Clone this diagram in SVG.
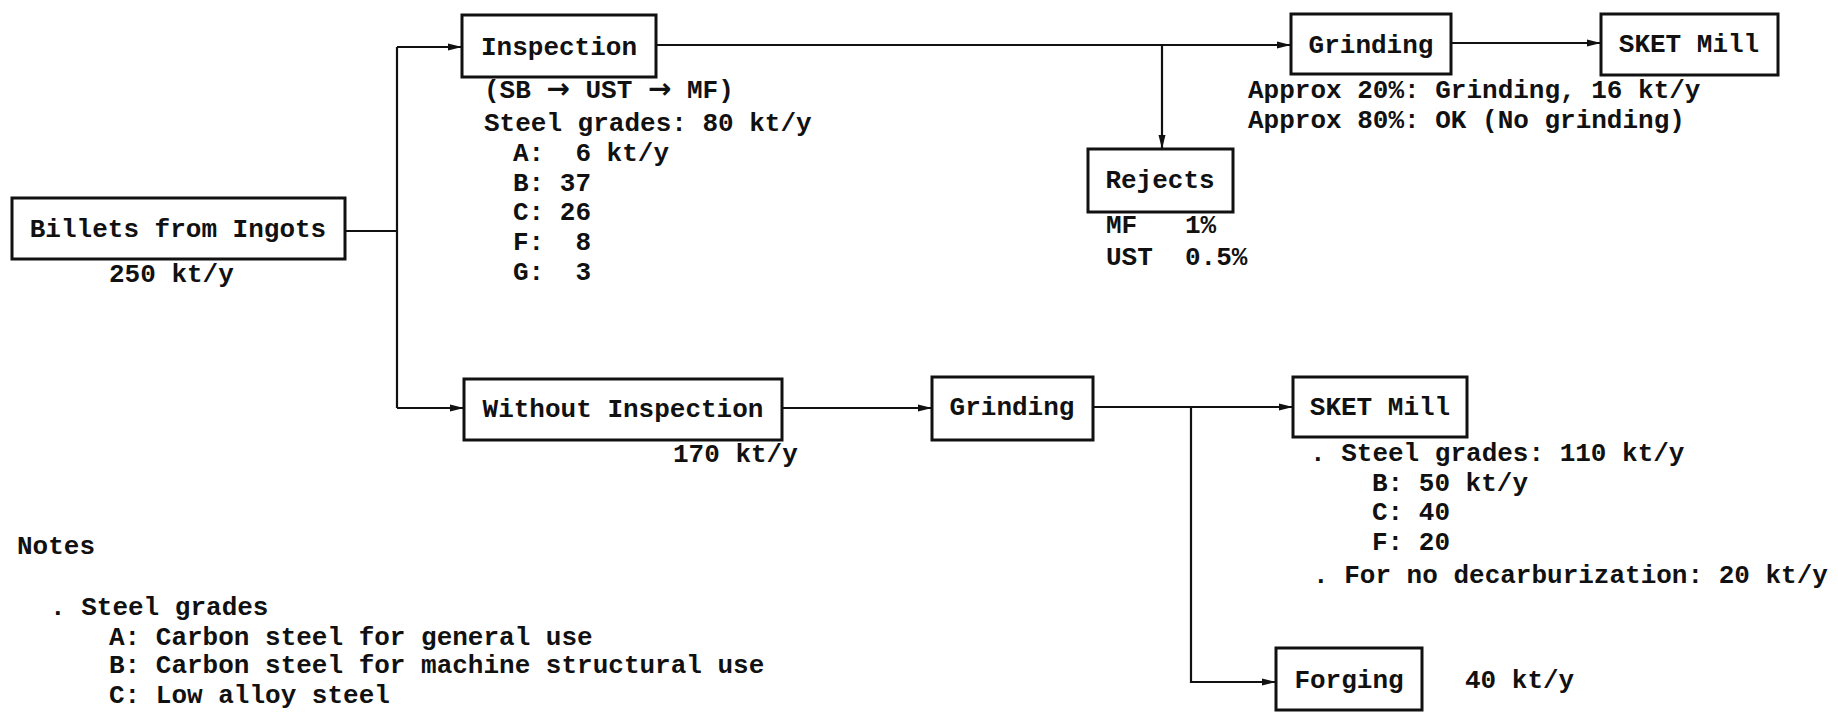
<svg xmlns="http://www.w3.org/2000/svg" width="1838" height="715" viewBox="0 0 1838 715" xml:space="preserve">
<style>
text{font-family:"Liberation Mono","Courier New",monospace;font-weight:bold;font-size:26px;fill:#111;white-space:pre}
.c{text-anchor:middle}
.ar{font-family:"DejaVu Sans",sans-serif;font-size:28px;font-weight:bold}
.box{fill:#fff;stroke:#111;stroke-width:3}
.ln{fill:none;stroke:#111;stroke-width:2.2}
</style>
<defs>
<marker id="ah" markerUnits="userSpaceOnUse" markerWidth="14" markerHeight="8" refX="14" refY="4" orient="auto">
<path d="M0,0.5 L14,4 L0,7.5 z" fill="#111"/>
</marker>
</defs>
<rect width="1838" height="715" fill="#fff"/>
<g id="connectors">
<path class="ln" d="M345,231 H397"/>
<path class="ln" d="M397,47 V408"/>
<path class="ln" d="M397,47 H462" marker-end="url(#ah)"/>
<path class="ln" d="M397,408 H464" marker-end="url(#ah)"/>
<path class="ln" d="M656,45 H1291" marker-end="url(#ah)"/>
<path class="ln" d="M1162,45 V149" marker-end="url(#ah)"/>
<path class="ln" d="M1451,43 H1601" marker-end="url(#ah)"/>
<path class="ln" d="M782,408 H932" marker-end="url(#ah)"/>
<path class="ln" d="M1093,407 H1293" marker-end="url(#ah)"/>
<path class="ln" d="M1191,407 V682 H1276" marker-end="url(#ah)"/>
</g>
<g id="billets">
<rect class="box" x="12" y="198" width="333" height="61"/>
<text class="c" x="178" y="237">Billets from Ingots</text>
<text x="109" y="282">250 kt/y</text>
</g>
<g id="inspection">
<rect class="box" x="462" y="15" width="194" height="62"/>
<text class="c" x="559" y="55">Inspection</text>
<text x="484" y="98">(SB <tspan class="ar">→</tspan> UST <tspan class="ar">→</tspan> MF)</text>
<text x="484" y="131">Steel grades: 80 kt/y</text>
<text x="513" y="161">A:  6 kt/y</text>
<text x="513" y="191">B: 37</text>
<text x="513" y="220">C: 26</text>
<text x="513" y="250">F:  8</text>
<text x="513" y="280">G:  3</text>
</g>
<g id="grinding-top">
<rect class="box" x="1291" y="14" width="160" height="60"/>
<text class="c" x="1371" y="53">Grinding</text>
<text x="1248" y="98">Approx 20%: Grinding, 16 kt/y</text>
<text x="1248" y="128">Approx 80%: OK (No grinding)</text>
</g>
<g id="sket-top">
<rect class="box" x="1601" y="14" width="177" height="61"/>
<text class="c" x="1689" y="52">SKET Mill</text>
</g>
<g id="rejects">
<rect class="box" x="1088" y="149" width="145" height="63"/>
<text class="c" x="1160" y="188">Rejects</text>
<text x="1106" y="233">MF</text><text x="1185" y="233">1%</text>
<text x="1106" y="265">UST</text><text x="1185" y="265">0.5%</text>
</g>
<g id="without-inspection">
<rect class="box" x="464" y="379" width="318" height="61"/>
<text class="c" x="623" y="417">Without Inspection</text>
<text x="673" y="462">170 kt/y</text>
</g>
<g id="grinding-bottom">
<rect class="box" x="932" y="377" width="161" height="63"/>
<text class="c" x="1012" y="415">Grinding</text>
</g>
<g id="sket-bottom">
<rect class="box" x="1293" y="377" width="174" height="60"/>
<text class="c" x="1380" y="415">SKET Mill</text>
<text x="1310" y="461">. Steel grades: 110 kt/y</text>
<text x="1372" y="491">B: 50 kt/y</text>
<text x="1372" y="520">C: 40</text>
<text x="1372" y="550">F: 20</text>
<text x="1313" y="583">. For no decarburization: 20 kt/y</text>
</g>
<g id="forging">
<rect class="box" x="1276" y="648" width="146" height="62"/>
<text class="c" x="1349" y="688">Forging</text>
<text x="1465" y="688">40 kt/y</text>
</g>
<g id="notes">
<text x="17" y="554">Notes</text>
<text x="50" y="615">. Steel grades</text>
<text x="109" y="645">A: Carbon steel for general use</text>
<text x="109" y="673">B: Carbon steel for machine structural use</text>
<text x="109" y="703">C: Low alloy steel</text>
</g>
</svg>
